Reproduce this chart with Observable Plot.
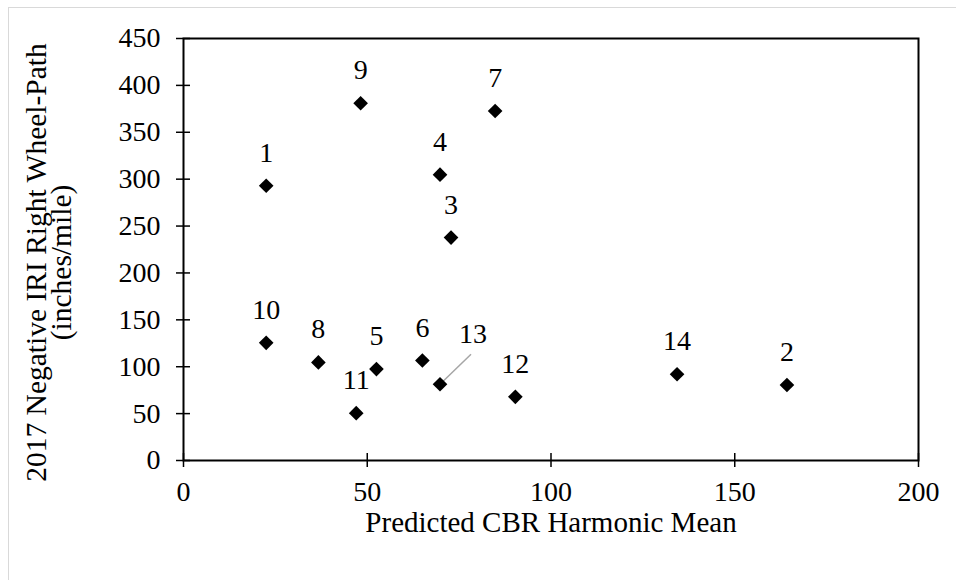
<!DOCTYPE html>
<html>
<head>
<meta charset="utf-8">
<script src="https://cdn.jsdelivr.net/npm/d3@7"></script>
<script src="https://cdn.jsdelivr.net/npm/@observablehq/plot@0.6"></script>
<style>
  html, body { margin: 0; padding: 0; background: #fff; }
  #wrap { position: relative; width: 956px; height: 580px; overflow: hidden; }
  #frame { position: absolute; left: 8px; top: 7px; width: 1000px; height: 1000px;
           border-left: 1.5px solid #d9d9d9; border-top: 1.5px solid #d9d9d9; }
  #chart { position: absolute; left: 0; top: 0; }
</style>
</head>
<body>
<div id="wrap"><div id="frame"></div><div id="chart"></div></div>
<script>
// Data
const siteIds = [1, 2, 3, 4, 5, 6, 7, 8, 9, 10, 11, 12, 13, 14];
const cbrHarmonicMean = [22.5, 164.2, 72.8, 69.8, 52.5, 65.0, 84.8, 36.7, 48.2, 22.5, 47.0, 90.3, 69.8, 134.3];
const negativeIRI = [293, 80.5, 237.7, 304.8, 97.5, 106.6, 372.7, 104.6, 381, 125.5, 50.5, 67.9, 81.3, 92];
const xTicks = [0, 50, 100, 150, 200];
const yTicks = [0, 50, 100, 150, 200, 250, 300, 350, 400, 450];
const xTitle = "Predicted CBR Harmonic Mean";
const yTitle = "2017 Negative IRI Right Wheel-Path\n(inches/mile)";
const leaderId = 13;

const data = siteIds.map((id, i) => ({id, x: cbrHarmonicMean[i], y: negativeIRI[i]}));

const W = 956, H = 580;
const mL = 183, mR = 38, mT = 38, mB = 120;
const pw = W - mL - mR, ph = H - mT - mB;
const xDom = [0, 200], yDom = [0, 450];
// leader line for label 13: pixel offset converted to data units
const offPx = [31, -30];
const leader = data.filter(d => d.id === leaderId).map(d => ({
  x1: d.x, y1: d.y,
  x2: d.x + offPx[0] * (xDom[1] - xDom[0]) / pw,
  y2: d.y - offPx[1] * (yDom[1] - yDom[0]) / ph
}));

const font = "Liberation Serif, Times New Roman, serif";
const fs = 28, fsT = 29, fsY = 29.5;

const chart = Plot.plot({
  width: W, height: H,
  marginLeft: mL, marginRight: mR, marginTop: mT, marginBottom: mB,
  style: {fontFamily: font, fontSize: fs + "px", color: "#000", background: "transparent"},
  x: {domain: xDom},
  y: {domain: yDom},
  marks: [
    Plot.frame({stroke: "#000", strokeWidth: 2}),
    Plot.tickX(xTicks, {x: d => d, insetTop: ph - 7, insetBottom: -7, stroke: "#000", strokeWidth: 1.5}),
    Plot.tickY(yTicks, {y: d => d, insetLeft: -7, insetRight: pw - 7, stroke: "#000", strokeWidth: 1.5}),
    Plot.axisX({ticks: xTicks, tickSize: 0, tickPadding: 21, label: null, fontSize: fs, tickFormat: d => String(d)}),
    Plot.axisY({ticks: yTicks, tickSize: 0, tickPadding: 23, label: null, fontSize: fs, tickFormat: d => String(d)}),
    Plot.text([xTitle], {frameAnchor: "bottom", dy: 71, text: d => d, fontSize: fsT, fill: "#000"}),
    Plot.text([yTitle], {frameAnchor: "left", textAnchor: "middle", rotate: -90, dx: -133, dy: 13, text: d => d, fontSize: fsY, lineHeight: 0.85, fill: "#000"}),
    Plot.link(leader, {x1: "x1", y1: "y1", x2: "x2", y2: "y2", stroke: "#a6a6a6", strokeWidth: 1.5}),
    Plot.dot(data, {x: "x", y: "y", symbol: "diamond2", r: 6.6, fill: "#000", stroke: "none"}),
    Plot.text(data.filter(d => d.id !== leaderId), {x: "x", y: "y", text: "id", dy: -33, fontSize: fs, fill: "#000"}),
    Plot.text(data.filter(d => d.id === leaderId), {x: "x", y: "y", text: "id", dx: 33, dy: -50, fontSize: fs, fill: "#000"})
  ]
});
document.getElementById("chart").appendChild(chart);
</script>
</body>
</html>
